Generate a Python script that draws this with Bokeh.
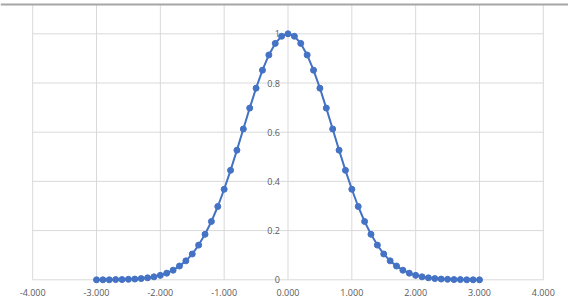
from bokeh.plotting import figure
from bokeh.embed import file_html
from bokeh.resources import INLINE
from bokeh.core.properties import value
from bokeh.models import ColumnDataSource, Range1d

# data
xs = [-3.0, -2.9, -2.8, -2.7, -2.6, -2.5, -2.4, -2.3, -2.2, -2.1,
      -2.0, -1.9, -1.8, -1.7, -1.6, -1.5, -1.4, -1.3, -1.2, -1.1,
      -1.0, -0.9, -0.8, -0.7, -0.6, -0.5, -0.4, -0.3, -0.2, -0.1,
      0.0, 0.1, 0.2, 0.3, 0.4, 0.5, 0.6, 0.7, 0.8, 0.9,
      1.0, 1.1, 1.2, 1.3, 1.4, 1.5, 1.6, 1.7, 1.8, 1.9,
      2.0, 2.1, 2.2, 2.3, 2.4, 2.5, 2.6, 2.7, 2.8, 2.9, 3.0]
ys = [0.000, 0.000, 0.000, 0.001, 0.001, 0.002, 0.003, 0.005, 0.008, 0.012,
      0.018, 0.027, 0.039, 0.056, 0.077, 0.105, 0.141, 0.185, 0.237, 0.298,
      0.368, 0.445, 0.527, 0.613, 0.698, 0.779, 0.852, 0.914, 0.961, 0.990,
      1.000, 0.990, 0.961, 0.914, 0.852, 0.779, 0.698, 0.613, 0.527, 0.445,
      0.368, 0.298, 0.237, 0.185, 0.141, 0.105, 0.077, 0.056, 0.039, 0.027,
      0.018, 0.012, 0.008, 0.005, 0.003, 0.002, 0.001, 0.001, 0.000, 0.000, 0.000]
x_ticks = [-4, -3, -2, -1, 0, 1, 2, 3, 4]
x_tick_labels = ["-4.000", "-3.000", "-2.000", "-1.000", "0.000", "1.000", "2.000", "3.000", "4.000"]
y_ticks = [0, 0.2, 0.4, 0.6, 0.8, 1.0]
y_tick_labels = ["0", "0.2", "0.4", "0.6", "0.8", "1"]

W, H = 568, 305
px_per_x = 63.83
x0_px = 287.5
px_per_y = 246.0
y0_px = 279.3
x_start = -x0_px / px_per_x
x_end = (W - x0_px) / px_per_x
y_end = y0_px / px_per_y
y_start = -(H - y0_px) / px_per_y
top_line_y = (y0_px - 4) / px_per_y

p = figure(width=W, height=H, output_backend="svg", toolbar_location=None,
           x_axis_type=None, y_axis_type=None, min_border=0,
           x_range=Range1d(x_start, x_end), y_range=Range1d(y_start, y_end))
p.outline_line_color = None
p.grid.visible = False
p.background_fill_color = "white"
p.border_fill_color = "white"

grid_color = "#d9d9d9"
# horizontal gridlines
p.segment(x0=[x_ticks[0]] * len(y_ticks), x1=[x_ticks[-1]] * len(y_ticks),
          y0=y_ticks, y1=y_ticks, line_color=grid_color, line_width=1)
# vertical gridlines
p.segment(x0=x_ticks, x1=x_ticks, y0=[0] * len(x_ticks), y1=[top_line_y] * len(x_ticks),
          line_color=grid_color, line_width=1)
# top border line
p.segment(x0=[x_start], x1=[x_end], y0=[top_line_y], y1=[top_line_y],
          line_color="#a6a6a6", line_width=2)

# labels
font = value("Open Sans")
p.text(x=x_ticks, y=[0] * len(x_ticks), text=x_tick_labels, text_font=font,
       text_font_size="9px", text_color="#595959", text_align="center",
       text_baseline="middle", y_offset=13)
p.text(x=[0] * len(y_ticks), y=y_ticks, text=y_tick_labels, text_font=font,
       text_font_size="9px", text_color="#595959", text_align="right",
       text_baseline="middle", x_offset=-8)

src = ColumnDataSource(dict(x=xs, y=ys))
p.line("x", "y", source=src, line_color="#4472C4", line_width=2)
p.scatter("x", "y", source=src, size=6, fill_color="#4472C4", line_color="#4472C4")

open("out.html", "w").write(file_html(p, INLINE))
